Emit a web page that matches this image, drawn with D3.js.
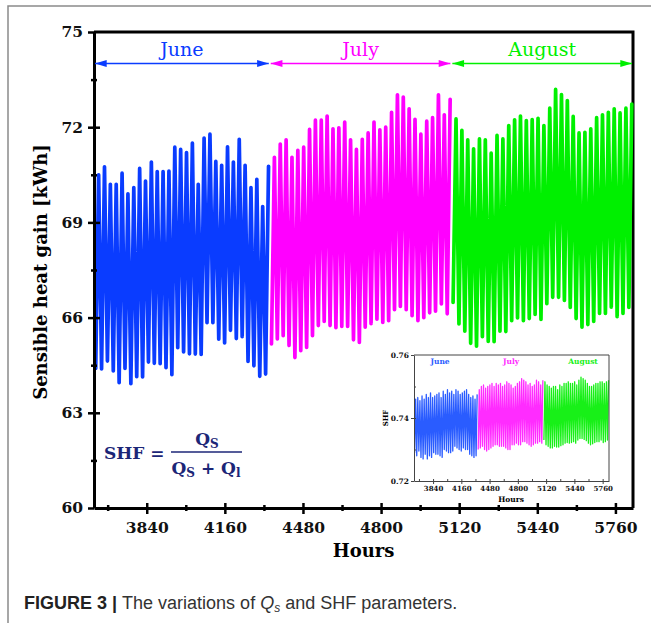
<!DOCTYPE html>
<html lang="en">
<head>
<meta charset="UTF-8">
<title>Sensible heat gain</title>
<script src="https://d3js.org/d3.v7.min.js"></script>
<style>
  body { margin: 0; background: #fff; }
  svg { display: block; }
  .tick text { font-family: "DejaVu Serif", serif; font-weight: bold; fill: #111; }
  .axis-main .domain { stroke: #000; stroke-width: 3px; }
  .axis-main .tick line { stroke: #000; stroke-width: 2.5px; }
  .axis-inset .domain { stroke: #444; stroke-width: 1px; }
  .axis-inset .tick line { stroke: #444; stroke-width: 1px; }
</style>
</head>
<body>
<div id="chart"></div>
<script>
// daily maxima / minima of sensible heat gain [kWh]
const junMax = [70.5, 70.75, 70.2, 70.2, 70.55, 69.9, 70.1, 70.7, 70.3, 70.9, 70.6, 70.6, 70.62, 71.37, 71.3,
                71.2, 71.5, 70.2, 71.66, 71.78, 70.92, 70.8, 71.38, 70.9, 71.62, 70.8, 70.1, 70.36, 69.5, 70.77];
const junMin = [64.4, 64.38, 64.63, 64.32, 63.95, 64.4, 63.92, 64.14, 64.13, 64.6, 64.56, 64.55, 64.42, 64.2, 65.05,
                64.92, 64.86, 64.85, 64.84, 65.84, 65.84, 65.32, 65.2, 65.6, 65.34, 65.4, 64.62, 64.48, 64.15, 64.22];
const julMax = [71.05, 71.47, 71.6, 71.05, 71.27, 71.37, 71.93, 72.22, 72.22, 72.35, 71.95, 71.98, 72.16, 71.6, 71.3,
                71.62, 71.82, 72.16, 71.92, 72.0, 72.47, 73.02, 72.95, 72.58, 72.25, 71.78, 72.19, 72.3, 73.02, 72.39, 72.88];
const julMin = [65.17, 65.33, 65.43, 65.12, 64.74, 64.96, 65.06, 65.43, 65.75, 65.88, 65.75, 65.68, 65.72, 65.72, 65.3,
                65.22, 65.7, 65.81, 65.95, 65.85, 65.9, 66.25, 66.35, 66.25, 66.06, 65.9, 66.0, 66.15, 66.2, 66.43, 66.12];
const augMax = [72.26, 71.9, 71.6, 71.32, 71.63, 71.6, 71.18, 71.74, 71.63, 72.05, 72.23, 72.35, 72.21, 72.24, 72.28,
                72.05, 72.6, 73.19, 73.03, 72.84, 72.34, 71.82, 71.84, 71.95, 72.3, 72.39, 72.47, 72.58, 72.45, 72.6, 72.73];
const augMin = [66.48, 65.8, 65.57, 65.19, 65.1, 65.4, 65.25, 65.24, 65.57, 65.56, 65.9, 65.99, 65.9, 65.97, 66.1,
                65.94, 66.44, 66.64, 66.64, 66.54, 66.32, 65.97, 65.7, 65.78, 65.88, 66.13, 66.13, 66.33, 66.03, 66.13, 66.32];

// inset: daily maxima / minima of SHF
const shfJunMax = [.7460, .7465, .7455, .7470, .7460, .7475, .7465, .7480, .7465, .7470, .7475, .7480, .7465, .7485, .7475,
                   .7490, .7480, .7485, .7475, .7490, .7485, .7475, .7480, .7485, .7490, .7475, .7465, .7470, .7460, .7475];
const shfJunMin = [.7290, .7280, .7295, .7275, .7270, .7285, .7270, .7280, .7275, .7290, .7285, .7285, .7280, .7275, .7300,
                   .7295, .7290, .7290, .7295, .7310, .7305, .7300, .7295, .7305, .7300, .7300, .7285, .7280, .7275, .7280];
const shfJulMax = [.7490, .7500, .7505, .7495, .7500, .7505, .7510, .7500, .7510, .7505, .7510, .7500, .7505, .7515, .7510,
                   .7505, .7495, .7500, .7510, .7515, .7525, .7520, .7515, .7505, .7510, .7500, .7505, .7520, .7515, .7505, .7520];
const shfJulMin = [.7300, .7305, .7310, .7300, .7295, .7300, .7305, .7310, .7315, .7315, .7310, .7310, .7310, .7305, .7300,
                   .7300, .7315, .7315, .7320, .7315, .7315, .7325, .7325, .7320, .7315, .7310, .7315, .7320, .7320, .7325, .7320];
const shfAugMax = [.7515, .7505, .7500, .7495, .7500, .7500, .7490, .7505, .7500, .7510, .7510, .7515, .7510, .7510, .7515,
                   .7505, .7520, .7530, .7525, .7520, .7510, .7500, .7500, .7505, .7510, .7510, .7515, .7515, .7510, .7515, .7520];
const shfAugMin = [.7330, .7315, .7310, .7305, .7305, .7310, .7308, .7308, .7312, .7315, .7320, .7322, .7320, .7322, .7325,
                   .7320, .7330, .7335, .7335, .7332, .7328, .7320, .7315, .7318, .7322, .7325, .7325, .7330, .7322, .7325, .7330];

const monthNames = ["June", "July", "August"];
const monthStart = [3624, 4344, 5088];   // hour of year at start of month
const periodEnd = 5832;
const monthColors = ["#0a3cff", "#ff00ff", "#00f000"];
const insetColors = ["#2a5cff", "#ff2cff", "#18f018"];

const xMajor = [3840, 4160, 4480, 4800, 5120, 5440, 5760];
const xMinor = [3680, 4000, 4320, 4640, 4960, 5280, 5600];
const yMajor = [60, 63, 66, 69, 72, 75];
const yMinor = [61.5, 64.5, 67.5, 70.5, 73.5];

const width = 651, height = 623;
const svg = d3.select("#chart").append("svg").attr("width", width).attr("height", height);

// figure frame
svg.append("path").attr("d", "M8,623 V6 H651").attr("fill", "none")
  .attr("stroke", "#8a8a8a").attr("stroke-width", 1.5);

const x = d3.scaleLinear().domain([monthStart[0], periodEnd]).range([94, 633]);
const y = d3.scaleLinear().domain([60, 75]).range([508, 32]);

// series: each day goes min (early) -> max (afternoon)
function dayPoints(start, mins, maxs) {
  const pts = [];
  mins.forEach((v, i) => {
    pts.push([start + 24 * i + 7, v]);
    pts.push([start + 24 * i + 19, maxs[i]]);
  });
  return pts;
}
const mainSeries = [
  dayPoints(monthStart[0], junMin, junMax),
  dayPoints(monthStart[1], julMin, julMax),
  dayPoints(monthStart[2], augMin, augMax)
];
const insetSeries = [
  dayPoints(monthStart[0], shfJunMin, shfJunMax),
  dayPoints(monthStart[1], shfJulMin, shfJulMax),
  dayPoints(monthStart[2], shfAugMin, shfAugMax)
];

// top / right frame of the plot
svg.append("path").attr("d", `M${x.range()[0]},${y(75)} H${x.range()[1]} V${y(60)}`)
  .attr("fill", "none").attr("stroke", "#000").attr("stroke-width", 3);

const line = d3.line().x(d => x(d[0])).y(d => y(d[1]));
svg.append("g").selectAll("path").data(mainSeries).join("path")
  .attr("d", line)
  .attr("fill", "none")
  .attr("stroke", (d, i) => monthColors[i])
  .attr("stroke-width", 3.7)
  .attr("stroke-linejoin", "round")
  .attr("stroke-linecap", "round");

// axes (ticks cross the axis line)
const gx = svg.append("g").attr("class", "axis-main").attr("transform", `translate(0,${y(60)})`);
gx.call(d3.axisBottom(x).tickValues(xMajor).tickSize(6).tickSizeOuter(0).tickPadding(8).tickFormat(d3.format("d")))
  .selectAll("text").style("font-size", "15.5px");
gx.append("g").call(d3.axisTop(x).tickValues(xMajor).tickSize(5).tickSizeOuter(0).tickFormat(""))
  .call(g => g.select(".domain").remove());
gx.append("g").call(d3.axisBottom(x).tickValues(xMinor).tickSize(3).tickFormat(""))
  .call(g => g.select(".domain").remove());
gx.append("g").call(d3.axisTop(x).tickValues(xMinor).tickSize(3).tickFormat(""))
  .call(g => g.select(".domain").remove());

const gy = svg.append("g").attr("class", "axis-main").attr("transform", `translate(${x.range()[0]},0)`);
gy.call(d3.axisLeft(y).tickValues(yMajor).tickSize(6).tickSizeOuter(0).tickPadding(5))
  .selectAll("text").style("font-size", "15.5px");
gy.append("g").call(d3.axisRight(y).tickValues(yMajor.filter(v => v > 60 && v < 75)).tickSize(6).tickFormat(""))
  .call(g => g.select(".domain").remove());
gy.append("g").call(d3.axisLeft(y).tickValues(yMinor).tickSize(3).tickFormat(""))
  .call(g => g.select(".domain").remove());
gy.append("g").call(d3.axisRight(y).tickValues(yMinor).tickSize(3).tickFormat(""))
  .call(g => g.select(".domain").remove());

svg.append("text")
  .attr("transform", `translate(47,${(y(60) + y(75)) / 2 + 2}) rotate(-90)`)
  .attr("text-anchor", "middle")
  .style("font-family", "DejaVu Serif, serif").style("font-weight", "bold").style("font-size", "18px")
  .text("Sensible heat gain [kWh]");

svg.append("text")
  .attr("x", (x.range()[0] + x.range()[1]) / 2).attr("y", 557)
  .attr("text-anchor", "middle")
  .style("font-family", "DejaVu Serif, serif").style("font-weight", "bold").style("font-size", "18px")
  .text("Hours");

// month arrows
const defs = svg.append("defs");
monthColors.forEach((c, i) => {
  defs.append("marker").attr("id", "arrow" + i)
    .attr("viewBox", "0 0 10 6").attr("refX", 10).attr("refY", 3)
    .attr("markerWidth", 13).attr("markerHeight", 7).attr("markerUnits", "userSpaceOnUse")
    .attr("orient", "auto-start-reverse")
    .append("path").attr("d", "M0,0 L10,3 L0,6 Z").attr("fill", c);
});
const arrowY = 63.5;
const bounds = monthStart.concat([periodEnd]);
monthNames.forEach((m, i) => {
  svg.append("line")
    .attr("x1", x(bounds[i]) + 1).attr("x2", x(bounds[i + 1]) - 1)
    .attr("y1", arrowY).attr("y2", arrowY)
    .attr("stroke", monthColors[i]).attr("stroke-width", 1.5)
    .attr("marker-start", `url(#arrow${i})`).attr("marker-end", `url(#arrow${i})`);
  svg.append("text")
    .attr("x", (x(bounds[i]) + x(bounds[i + 1])) / 2).attr("y", 56)
    .attr("text-anchor", "middle")
    .attr("fill", monthColors[i])
    .style("font-family", "DejaVu Serif, serif").style("font-size", "19px")
    .text(m);
});

// SHF formula
const navy = "#1c2677";
const fm = svg.append("g").attr("fill", navy)
  .style("font-family", "DejaVu Serif, serif").style("font-weight", "bold").style("font-size", "17px");
fm.append("text").attr("x", 104).attr("y", 459).text("SHF =");
const num = fm.append("text").attr("x", 207).attr("y", 445).attr("text-anchor", "middle");
num.append("tspan").text("Q");
num.append("tspan").attr("dy", 3).style("font-size", "12px").text("S");
fm.append("line").attr("x1", 171).attr("x2", 242).attr("y1", 452).attr("y2", 452)
  .attr("stroke", navy).attr("stroke-width", 1.5);
const den = fm.append("text").attr("x", 206).attr("y", 474).attr("text-anchor", "middle");
den.append("tspan").text("Q");
den.append("tspan").attr("dy", 3).style("font-size", "12px").text("S");
den.append("tspan").attr("dy", -3).text(" + Q");
den.append("tspan").attr("dy", 3).style("font-size", "12px").text("l");

// inset SHF chart
const xi = d3.scaleLinear().domain([monthStart[0], periodEnd]).range([414, 609]);
const yi = d3.scaleLinear().domain([0.72, 0.76]).range([481, 355]);
const inset = svg.append("g");
inset.append("rect").attr("x", 414).attr("y", 355).attr("width", 195).attr("height", 126).attr("fill", "#fff");
const lineI = d3.line().x(d => xi(d[0])).y(d => yi(d[1]));
inset.append("g").selectAll("path").data(insetSeries).join("path")
  .attr("d", lineI).attr("fill", "none")
  .attr("stroke", (d, i) => insetColors[i]).attr("stroke-width", 1.3)
  .attr("stroke-linejoin", "round");
inset.append("path").attr("d", `M414,355 H609 V481`).attr("fill", "none").attr("stroke", "#444").attr("stroke-width", 1);
const gxi = inset.append("g").attr("class", "axis-inset").attr("transform", "translate(0,481)");
gxi.call(d3.axisBottom(xi).tickValues(xMajor).tickSize(3).tickSizeOuter(0).tickPadding(2).tickFormat(d3.format("d")))
  .selectAll("text").style("font-size", "7px");
gxi.append("g").call(d3.axisTop(xi).tickValues(xMajor.concat(xMinor)).tickSize(2).tickFormat(""))
  .call(g => g.select(".domain").remove());
const gyi = inset.append("g").attr("class", "axis-inset").attr("transform", "translate(414,0)");
gyi.call(d3.axisLeft(yi).tickValues([0.72, 0.74, 0.76]).tickSize(3).tickSizeOuter(0).tickPadding(2).tickFormat(d3.format(".2f")))
  .selectAll("text").style("font-size", "7.5px");
gyi.append("g").call(d3.axisRight(yi).tickValues([0.73, 0.74, 0.75]).tickSize(2).tickFormat(""))
  .call(g => g.select(".domain").remove());
inset.append("text").attr("x", 511).attr("y", 502).attr("text-anchor", "middle")
  .style("font-family", "DejaVu Serif, serif").style("font-weight", "bold").style("font-size", "7.5px").text("Hours");
inset.append("text").attr("transform", "translate(388,418) rotate(-90)").attr("text-anchor", "middle")
  .style("font-family", "DejaVu Serif, serif").style("font-weight", "bold").style("font-size", "7px").text("SHF");
monthNames.forEach((m, i) => {
  inset.append("text")
    .attr("x", [440, 511, 583][i]).attr("y", 364).attr("text-anchor", "middle")
    .attr("fill", insetColors[i])
    .style("font-family", "DejaVu Serif, serif").style("font-weight", "bold").style("font-size", "7.5px")
    .text(m);
});

// caption
const cap = svg.append("text").attr("x", 24).attr("y", 609)
  .style("font-family", "Liberation Sans, Arial, sans-serif").style("font-size", "18px").attr("fill", "#333");
cap.append("tspan").style("font-weight", "bold").attr("fill", "#222").text("FIGURE 3 | ");
cap.append("tspan").text("The variations of ");
cap.append("tspan").style("font-style", "italic").text("Q");
cap.append("tspan").style("font-style", "italic").style("font-size", "12px").attr("dy", 3).text("s");
cap.append("tspan").attr("dy", -3).text(" and SHF parameters.");
</script>
</body>
</html>
